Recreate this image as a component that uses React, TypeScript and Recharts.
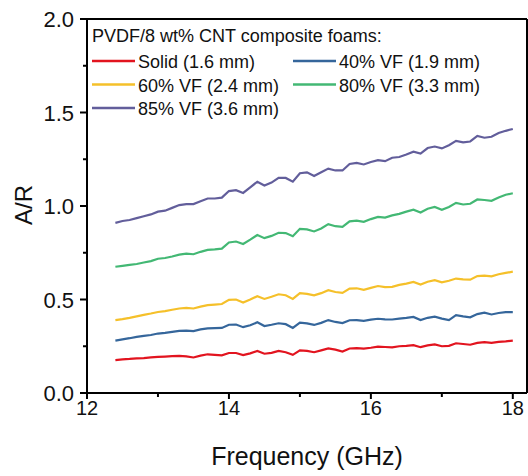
import { LineChart, Line, XAxis, YAxis, ReferenceLine } from 'recharts';

const freq = [
  12.4, 12.5, 12.6, 12.7, 12.8, 12.9, 13.0, 13.1, 13.2, 13.3, 13.4, 13.5, 13.6, 13.7, 13.8, 13.9,
  14.0, 14.1, 14.2, 14.3, 14.4, 14.5, 14.6, 14.7, 14.8, 14.9, 15.0, 15.1, 15.2, 15.3, 15.4, 15.5,
  15.6, 15.7, 15.8, 15.9, 16.0, 16.1, 16.2, 16.3, 16.4, 16.5, 16.6, 16.7, 16.8, 16.9, 17.0, 17.1,
  17.2, 17.3, 17.4, 17.5, 17.6, 17.7, 17.8, 17.9, 18.0,
];

const solid = [
  0.176, 0.18, 0.182, 0.185, 0.187, 0.19, 0.193, 0.195, 0.197, 0.198, 0.196, 0.19, 0.2, 0.207, 0.204, 0.201,
  0.214, 0.214, 0.203, 0.212, 0.225, 0.21, 0.215, 0.225, 0.218, 0.204, 0.228, 0.225, 0.218, 0.228, 0.238, 0.232,
  0.222, 0.238, 0.24, 0.237, 0.242, 0.248, 0.246, 0.244, 0.25, 0.252, 0.256, 0.245, 0.255, 0.26, 0.25, 0.252,
  0.266, 0.262, 0.258, 0.268, 0.272, 0.268, 0.273, 0.276, 0.28,
];

const vf40 = [
  0.28, 0.287, 0.293, 0.3, 0.305, 0.31, 0.318, 0.322, 0.327, 0.332, 0.334, 0.331, 0.34, 0.346, 0.347, 0.348,
  0.365, 0.366, 0.352, 0.362, 0.378, 0.358, 0.365, 0.373, 0.368, 0.348, 0.376, 0.372, 0.364, 0.375, 0.39, 0.38,
  0.374, 0.389, 0.39, 0.386, 0.392, 0.397, 0.394, 0.393, 0.398, 0.402, 0.407, 0.39, 0.402, 0.408, 0.398, 0.39,
  0.416, 0.41, 0.405, 0.422, 0.43, 0.42, 0.428, 0.432, 0.433,
];

const vf60 = [
  0.39, 0.395, 0.402, 0.41, 0.418, 0.425, 0.433, 0.438, 0.445, 0.452, 0.455, 0.452, 0.462, 0.47, 0.473, 0.476,
  0.498, 0.5, 0.484, 0.5, 0.518, 0.503, 0.515, 0.528, 0.523, 0.503, 0.534, 0.53, 0.522, 0.534, 0.55, 0.54,
  0.535, 0.558, 0.56, 0.552, 0.562, 0.572, 0.566, 0.568, 0.578, 0.585, 0.594, 0.58, 0.595, 0.603, 0.592, 0.6,
  0.612, 0.608, 0.606, 0.625, 0.628, 0.624, 0.635, 0.642, 0.649,
];

const vf80 = [
  0.675, 0.68, 0.685, 0.69, 0.698, 0.705, 0.718, 0.722, 0.73, 0.74, 0.745, 0.742, 0.755, 0.765, 0.768, 0.772,
  0.805, 0.81, 0.797, 0.82, 0.845, 0.828, 0.84, 0.857, 0.855, 0.838, 0.878, 0.875, 0.864, 0.88, 0.903, 0.892,
  0.888, 0.918, 0.922, 0.915, 0.93, 0.942, 0.938, 0.95, 0.958, 0.97, 0.98, 0.965, 0.985, 0.995, 0.98, 0.995,
  1.017, 1.008, 1.012, 1.035, 1.032, 1.028, 1.045, 1.06, 1.068,
];

const vf85 = [
  0.91, 0.92, 0.925, 0.935, 0.945, 0.955, 0.97, 0.975, 0.99, 1.005, 1.01, 1.01, 1.025, 1.04, 1.04, 1.045,
  1.08, 1.085, 1.07, 1.1, 1.13, 1.11, 1.125, 1.15, 1.15, 1.13, 1.175, 1.18, 1.16, 1.18, 1.2, 1.19,
  1.19, 1.225, 1.23, 1.222, 1.235, 1.245, 1.24, 1.258, 1.262, 1.275, 1.29, 1.28, 1.31, 1.318, 1.308, 1.325,
  1.348, 1.34, 1.345, 1.375, 1.365, 1.37, 1.39, 1.402, 1.412,
];

const xTicks = [12, 13, 14, 15, 16, 17, 18];
const yTicks = [0, 0.25, 0.5, 0.75, 1.0, 1.25, 1.5, 1.75, 2.0];
const xDomain = [12, 18.2];
const yDomain = [0, 2];

const legendTitle = 'PVDF/8 wt% CNT composite foams:';

const series = [
  { key: 'solid', name: 'Solid (1.6 mm)', color: '#e2141f', values: solid },
  { key: 'vf40', name: '40% VF (1.9 mm)', color: '#35669b', values: vf40 },
  { key: 'vf60', name: '60% VF (2.4 mm)', color: '#f5c02a', values: vf60 },
  { key: 'vf80', name: '80% VF (3.3 mm)', color: '#43b874', values: vf80 },
  { key: 'vf85', name: '85% VF (3.6 mm)', color: '#625e9b', values: vf85 },
];

const data = freq.map((f, i) => {
  const row: any = { f };
  series.forEach(s => { row[s.key] = s.values[i]; });
  return row;
});

const FONT = '"Liberation Sans", Arial, sans-serif';

const XTick = ({ x, y, payload }: any) => {
  const major = payload.value % 2 === 0;
  return (
    <g>
      <line x1={x} y1={y} x2={x} y2={y + (major ? 6 : 4)} stroke="#000" strokeWidth={2} />
      {major && (
        <text x={x} y={y + 22} textAnchor="middle" fontSize={20} fontFamily={FONT} fill="#111">
          {payload.value}
        </text>
      )}
    </g>
  );
};

const YTick = ({ x, y, payload }: any) => {
  const major = Math.abs((payload.value * 2) % 1) < 1e-6;
  return (
    <g>
      <line x1={x} y1={y} x2={x - (major ? 7 : 4)} y2={y} stroke="#000" strokeWidth={2} />
      {major && (
        <text x={x - 13} y={y + 8} textAnchor="end" fontSize={22} fontFamily={FONT} fill="#111">
          {payload.value.toFixed(1)}
        </text>
      )}
    </g>
  );
};

const YTitle = () => (
  <text x={24} y={205} dy={8} transform="rotate(-90, 24, 205)" textAnchor="middle"
    fontSize={24} fontFamily={FONT} fill="#111">
    A/R
  </text>
);

function LegendBox() {
  const colX = [92, 293];
  return (
    <svg width={528} height={140} style={{ position: 'absolute', left: 0, top: 0, pointerEvents: 'none' }}>
      <text x={92} y={42} fontSize={18} fontFamily={FONT} fill="#111">{legendTitle}</text>
      {series.map((s, i) => {
        const x = colX[i % 2];
        const y = 61 + Math.floor(i / 2) * 23.5;
        return (
          <g key={s.key}>
            <line x1={x} y1={y} x2={x + 43} y2={y} stroke={s.color} strokeWidth={2.5} />
            <text x={x + 46} y={y + 7} fontSize={18} fontFamily={FONT} fill="#111">{s.name}</text>
          </g>
        );
      })}
    </svg>
  );
}

export default function App() {
  return (
    <div style={{ position: 'absolute', left: 0, top: 0, width: 528, height: 476, background: '#fff' }}>
      <LineChart width={528} height={476} data={data} margin={{ top: 19, right: 1, left: 0, bottom: 0 }}>
        <XAxis
          dataKey="f" type="number" domain={xDomain} ticks={xTicks} allowDataOverflow
          height={83} tickSize={0} tickMargin={0} tickLine={false} tick={<XTick />}
          axisLine={{ stroke: '#000', strokeWidth: 2 }}
          label={{ value: 'Frequency (GHz)', position: 'insideBottom', offset: 11, fontSize: 25, fontFamily: FONT, fill: '#111' }}
        />
        <YAxis
          type="number" domain={yDomain} ticks={yTicks} width={87}
          tickSize={0} tickMargin={0} tickLine={false} tick={<YTick />}
          axisLine={{ stroke: '#000', strokeWidth: 2 }}
          label={<YTitle />}
        />
        {/* closing frame: top and right borders */}
        <ReferenceLine y={yDomain[1]} stroke="#000" strokeWidth={2} />
        <ReferenceLine x={xDomain[1]} stroke="#000" strokeWidth={2} />
        {series.map(s => (
          <Line key={s.key} type="linear" dataKey={s.key} name={s.name} stroke={s.color}
            strokeWidth={2.2} dot={false} isAnimationActive={false} />
        ))}
      </LineChart>
      <LegendBox />
    </div>
  );
}
